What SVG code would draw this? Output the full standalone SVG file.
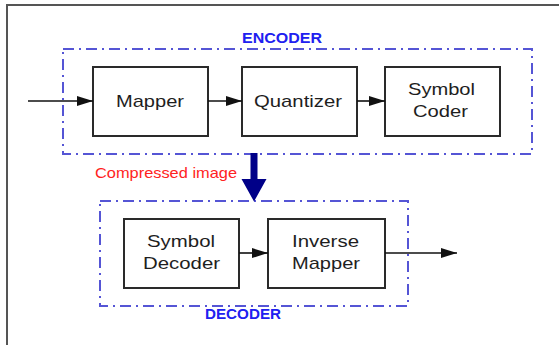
<svg xmlns="http://www.w3.org/2000/svg" width="559" height="345" viewBox="0 0 559 345">
  <defs>
    <marker id="arrow" markerWidth="16" markerHeight="10" refX="16" refY="5" orient="auto" markerUnits="userSpaceOnUse">
      <path d="M0,0 L16,5 L0,10 Z" fill="#111"/>
    </marker>
    <style>
      .frame { fill: none; stroke: #555; stroke-width: 2; }
      .group { fill: none; stroke: #5555d5; stroke-width: 2; stroke-dasharray: 11 5 2 5; }
      .box { fill: #fff; stroke: #2a2a2a; stroke-width: 2; }
      .label { font-family: "Liberation Sans", Arial, sans-serif; font-size: 17px; fill: #1e1e1e; text-anchor: middle; }
      .title { font-family: "Liberation Sans", Arial, sans-serif; font-size: 14px; font-weight: bold; fill: #2020f0; text-anchor: middle; }
      .note { font-family: "Liberation Sans", Arial, sans-serif; font-size: 15px; fill: #ff2222; text-anchor: middle; }
      .link { fill: none; stroke: #111; stroke-width: 1.6; }
    </style>
  </defs>

  <rect width="559" height="345" fill="#fff"/>
  <path class="frame" d="M7,346 V5 H560"/>

  <!-- encoder stage -->
  <g id="encoder">
    <rect class="group" x="63" y="49" width="469" height="105"/>
    <text class="title" x="282" y="42.7" textLength="80" lengthAdjust="spacingAndGlyphs">ENCODER</text>
  </g>
  <g id="mapper">
    <rect class="box" x="93" y="67" width="115" height="69"/>
    <text class="label" x="150" y="106.5" textLength="68" lengthAdjust="spacingAndGlyphs">Mapper</text>
  </g>
  <g id="quantizer">
    <rect class="box" x="242" y="67" width="115" height="69"/>
    <text class="label" x="298" y="106.5" textLength="88" lengthAdjust="spacingAndGlyphs">Quantizer</text>
  </g>
  <g id="symbol-coder">
    <rect class="box" x="385" y="67" width="115" height="69"/>
    <text class="label" x="441.5" y="95" textLength="67" lengthAdjust="spacingAndGlyphs">Symbol</text>
    <text class="label" x="440.5" y="116.7" textLength="55" lengthAdjust="spacingAndGlyphs">Coder</text>
  </g>

  <!-- decoder stage -->
  <g id="decoder">
    <rect class="group" x="100" y="201" width="308" height="105"/>
    <text class="title" x="243" y="319" textLength="76" lengthAdjust="spacingAndGlyphs">DECODER</text>
  </g>
  <g id="symbol-decoder">
    <rect class="box" x="124" y="219" width="115" height="69"/>
    <text class="label" x="181" y="247.3" textLength="68" lengthAdjust="spacingAndGlyphs">Symbol</text>
    <text class="label" x="181.5" y="269.3" textLength="77" lengthAdjust="spacingAndGlyphs">Decoder</text>
  </g>
  <g id="inverse-mapper">
    <rect class="box" x="268" y="219" width="117" height="69"/>
    <text class="label" x="325.5" y="247.3" textLength="67" lengthAdjust="spacingAndGlyphs">Inverse</text>
    <text class="label" x="326" y="269.3" textLength="68" lengthAdjust="spacingAndGlyphs">Mapper</text>
  </g>

  <!-- channel between stages -->
  <g id="compressed-image">
    <text class="note" x="166" y="178" textLength="142" lengthAdjust="spacingAndGlyphs">Compressed image</text>
  </g>

  <g id="connectors">
    <line class="link" x1="28" y1="101" x2="93" y2="101" marker-end="url(#arrow)"/>
    <line class="link" x1="208" y1="101" x2="242" y2="101" marker-end="url(#arrow)"/>
    <line class="link" x1="357" y1="101" x2="385" y2="101" marker-end="url(#arrow)"/>
    <line class="link" x1="239" y1="253" x2="268" y2="253" marker-end="url(#arrow)"/>
    <line class="link" x1="385" y1="253" x2="457" y2="253" marker-end="url(#arrow)"/>
    <path d="M250.5,153 H257.5 V179 H266.5 L254,201.5 L241.5,179 H250.5 Z" fill="#000088"/>
  </g>
</svg>
